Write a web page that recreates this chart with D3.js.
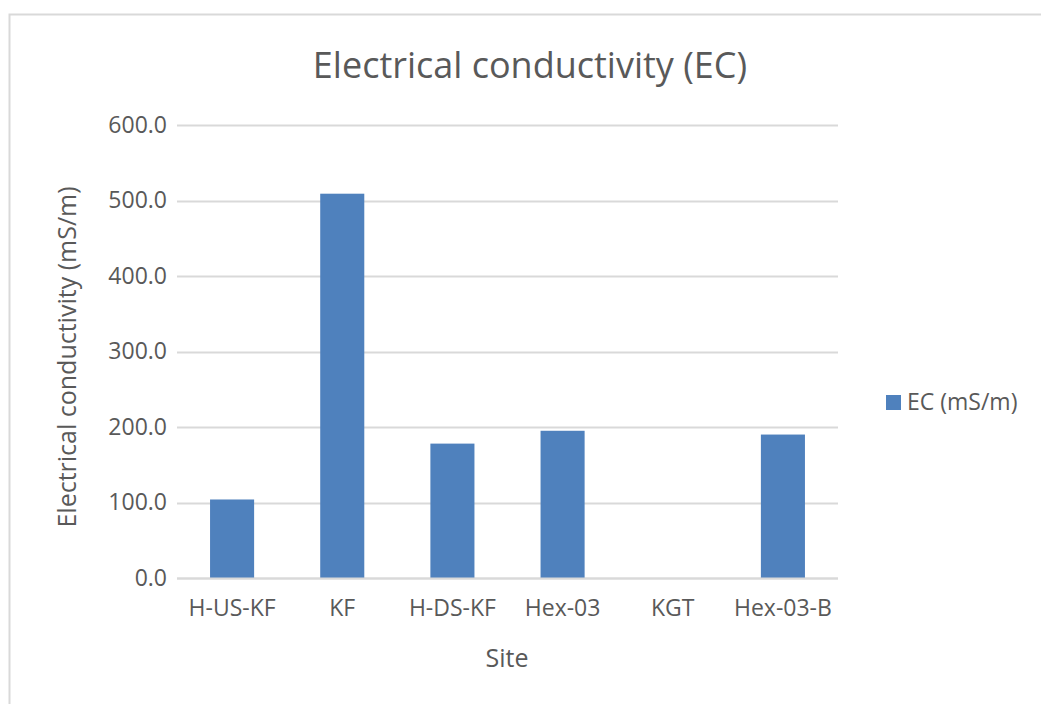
<!DOCTYPE html>
<html><head><meta charset="utf-8">
<script src="https://cdn.jsdelivr.net/npm/d3@7"></script>
<style>body{margin:0;background:#fff;} text{font-family:"Open Sans","Noto Sans",sans-serif;fill:#595959;}</style>
</head><body><svg id="c" width="1041" height="704"></svg>
<script>
const categories = ["H-US-KF","KF","H-DS-KF","Hex-03","KGT","Hex-03-B"];
const ecValues = [104, 509, 178, 195, null, 190];
const yTicks = [0,100,200,300,400,500,600];
const seriesName = "EC (mS/m)";

const svg = d3.select("#c");
svg.append("rect").attr("x",9.5).attr("y",14.5).attr("width",1100).attr("height",800)
  .attr("fill","#fff").attr("stroke","#d9d9d9").attr("stroke-width",2);

const m = {l:177, r:838, t:125, b:578};
const x = d3.scaleBand().domain(categories).range([m.l,m.r]).paddingInner(0.6).paddingOuter(0.3);
const y = d3.scaleLinear().domain([0,600]).range([m.b,m.t]);

svg.append("g").selectAll("line").data(yTicks).join("line")
  .attr("x1",m.l).attr("x2",m.r).attr("y1",d=>Math.round(y(d))+0.5).attr("y2",d=>Math.round(y(d))+0.5)
  .attr("stroke","#d9d9d9").attr("stroke-width",2);

svg.append("g").selectAll("rect").data(categories.map((c,i)=>({c,v:ecValues[i]})).filter(d=>d.v!=null))
  .join("rect").attr("x",d=>x(d.c)).attr("width",x.bandwidth())
  .attr("y",d=>y(d.v)).attr("height",d=>y(0)-y(d.v)).attr("fill","#4f81bd");

const font = "'Open Sans','Noto Sans',sans-serif";
const yAxis = d3.axisLeft(y).tickValues(yTicks).tickFormat(d3.format(".1f")).tickSize(0).tickPadding(10);
const ga = svg.append("g").attr("transform",`translate(${m.l},0)`).call(yAxis);
ga.select(".domain").remove();
ga.selectAll("text").style("font-size","23px").style("fill","#595959").style("font-family",font);

const xAxis = d3.axisBottom(x).tickSize(0).tickPadding(22);
const gx = svg.append("g").attr("transform",`translate(0,${m.b})`).call(xAxis);
gx.select(".domain").attr("stroke","#d9d9d9").attr("stroke-width",2).attr("d",`M${m.l},0.5H${m.r}`);
gx.selectAll("text").style("font-size","23px").style("fill","#595959").style("font-family",font);

svg.append("text").attr("x",530).attr("y",78).attr("text-anchor","middle").style("font-size","36px").text("Electrical conductivity (EC)");
svg.append("text").attr("x",507).attr("y",667).attr("text-anchor","middle").style("font-size","25px").text("Site");
svg.append("text").attr("transform","translate(76,357) rotate(-90)").attr("text-anchor","middle").style("font-size","25px").text("Electrical conductivity (mS/m)");

svg.append("rect").attr("x",886).attr("y",395).attr("width",15).attr("height",15).attr("fill","#4f81bd");
svg.append("text").attr("x",907).attr("y",410).style("font-size","23px").text(seriesName);
</script></body></html>
